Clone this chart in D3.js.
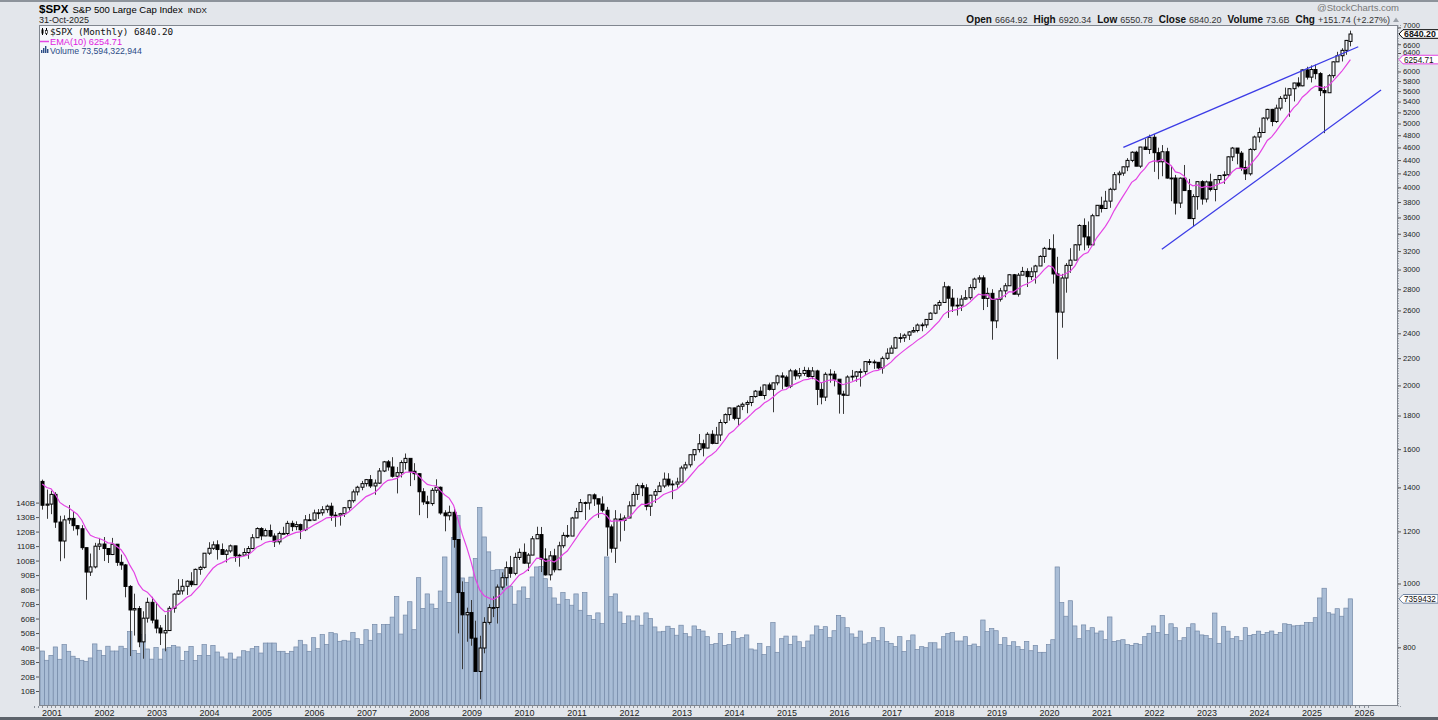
<!DOCTYPE html>
<html>
<head>
<meta charset="utf-8">
<script src="https://cdn.jsdelivr.net/npm/d3@7"></script>
<style>
  body { margin: 0; background: #e3e6eb; }
  svg { display: block; font-family: "Liberation Sans", Arial, sans-serif; }
</style>
</head>
<body>
<script>
// monthly bars, Nov 2000 .. Oct 2025 (one row per year)
var firstYear = 2000, firstMonth = 11;

var openPx = [
  1429.4, 1315.2,
  1320.3, 1366.0, 1239.9, 1160.3, 1249.5, 1255.8, 1224.4, 1211.2, 1133.6, 1040.9, 1059.8, 1139.5,
  1148.1, 1130.2, 1106.7, 1147.4, 1076.9, 1067.1, 989.8, 911.6, 916.1, 815.3, 885.8, 936.3,
  879.8, 855.7, 841.2, 848.2, 916.9, 963.6, 974.5, 990.3, 1008.0, 996.0, 1050.7, 1058.2,
  1111.9, 1131.1, 1144.9, 1126.2, 1107.3, 1120.7, 1140.8, 1101.7, 1104.2, 1114.6, 1130.2, 1173.8,
  1211.9, 1181.3, 1203.6, 1180.6, 1156.9, 1191.5, 1191.3, 1234.2, 1220.3, 1228.8, 1207.0, 1249.5,
  1248.3, 1280.1, 1280.7, 1294.8, 1310.6, 1270.1, 1270.2, 1276.7, 1303.8, 1335.9, 1377.9, 1400.6,
  1418.3, 1438.2, 1406.8, 1420.9, 1482.4, 1530.6, 1503.4, 1455.3, 1474.0, 1526.8, 1549.4, 1481.1,
  1468.4, 1378.6, 1330.6, 1322.7, 1385.6, 1400.4, 1280.0, 1267.4, 1282.8, 1166.4, 968.8, 896.2,
  903.3, 825.9, 735.1, 797.9, 872.8, 919.1, 919.3, 987.5, 1020.6, 1057.1, 1036.2, 1095.6,
  1115.1, 1073.9, 1104.5, 1169.4, 1186.7, 1089.4, 1030.7, 1101.6, 1049.3, 1141.2, 1183.3, 1180.6,
  1257.6, 1286.1, 1327.2, 1325.8, 1363.6, 1345.2, 1320.6, 1292.3, 1218.9, 1131.4, 1253.3, 1247.0,
  1257.6, 1312.4, 1365.7, 1408.5, 1397.9, 1310.3, 1362.2, 1379.3, 1406.6, 1440.7, 1412.2, 1416.2,
  1426.2, 1498.1, 1514.7, 1569.2, 1597.6, 1630.7, 1606.3, 1685.7, 1633.0, 1681.6, 1756.5, 1805.8,
  1848.4, 1782.6, 1859.5, 1872.3, 1884.0, 1923.6, 1960.2, 1930.7, 2003.4, 1972.3, 2018.1, 2067.6,
  2058.9, 1995.0, 2104.5, 2067.9, 2085.5, 2107.4, 2063.1, 2103.8, 1972.2, 1920.0, 2079.4, 2080.4,
  2043.9, 1940.2, 1932.2, 2059.7, 2065.3, 2097.0, 2098.9, 2173.6, 2171.0, 2168.3, 2126.2, 2198.8,
  2238.8, 2278.9, 2363.6, 2362.7, 2384.2, 2411.8, 2423.4, 2470.3, 2471.7, 2519.4, 2575.3, 2647.6,
  2673.6, 2823.8, 2713.8, 2640.9, 2648.1, 2705.3, 2718.4, 2816.3, 2901.5, 2914.0, 2711.7, 2760.2,
  2506.9, 2704.1, 2784.5, 2834.4, 2945.8, 2752.1, 2941.8, 2980.4, 2926.5, 2976.7, 3037.6, 3141.0,
  3230.8, 3225.5, 2954.2, 2584.6, 2912.4, 3044.3, 3100.3, 3271.1, 3500.3, 3363.0, 3270.0, 3621.6,
  3756.1, 3714.2, 3811.2, 3972.9, 4181.2, 4204.1, 4297.5, 4395.3, 4522.7, 4307.5, 4605.4, 4567.0,
  4766.2, 4515.6, 4373.9, 4530.4, 4131.9, 4132.2, 3785.4, 4130.3, 3955.0, 3585.6, 3872.0, 4080.1,
  3839.5, 4076.6, 3970.2, 4109.3, 4169.5, 4179.8, 4450.4, 4589.0, 4507.7, 4288.1, 4193.8, 4567.8,
  4769.8, 4845.7, 5096.3, 5254.4, 5035.7, 5277.5, 5460.5, 5522.3, 5648.4, 5762.5, 5705.5, 6032.4,
  5881.6, 6040.5, 5954.5, 5611.9, 5569.1, 5911.7, 6205.0, 6339.4, 6460.3, 6664.9
];

var highPx = [
  1438.5, 1389.1,
  1383.4, 1376.4, 1267.4, 1269.3, 1315.9, 1286.6, 1227.0, 1226.3, 1134.0, 1110.6, 1152.9, 1173.0,
  1176.6, 1130.9, 1173.0, 1147.8, 1106.6, 1070.7, 994.5, 965.0, 924.0, 907.4, 951.7, 954.3,
  935.1, 864.6, 895.9, 924.2, 966.0, 1015.3, 1015.4, 1011.0, 1040.3, 1053.8, 1063.7, 1112.6,
  1155.4, 1158.9, 1163.2, 1150.6, 1128.0, 1146.2, 1140.8, 1109.7, 1131.5, 1140.1, 1188.5, 1217.3,
  1217.8, 1212.3, 1229.1, 1191.9, 1199.6, 1219.6, 1245.2, 1245.9, 1243.1, 1233.3, 1270.6, 1275.8,
  1294.9, 1297.6, 1310.9, 1318.2, 1326.7, 1284.4, 1280.4, 1306.7, 1340.3, 1389.5, 1407.9, 1431.8,
  1441.6, 1461.6, 1438.9, 1498.0, 1535.6, 1540.6, 1555.9, 1503.9, 1538.7, 1576.1, 1545.1, 1523.6,
  1471.8, 1396.0, 1359.7, 1397.0, 1440.2, 1404.1, 1292.2, 1313.2, 1303.0, 1167.0, 1007.5, 918.9,
  943.9, 877.9, 833.0, 888.7, 930.2, 956.2, 996.7, 1039.5, 1080.2, 1101.4, 1113.7, 1130.4,
  1150.5, 1112.4, 1180.7, 1219.8, 1218.8, 1131.2, 1120.0, 1129.2, 1157.2, 1196.1, 1227.1, 1262.6,
  1303.0, 1344.1, 1332.3, 1364.6, 1370.6, 1345.2, 1356.5, 1307.4, 1229.3, 1292.7, 1277.6, 1269.4,
  1333.5, 1378.0, 1419.2, 1422.4, 1415.3, 1363.5, 1391.7, 1426.7, 1474.5, 1471.0, 1434.3, 1448.0,
  1509.9, 1530.9, 1570.3, 1597.6, 1687.2, 1654.2, 1698.0, 1709.7, 1729.9, 1775.2, 1813.6, 1849.4,
  1850.8, 1867.9, 1884.0, 1897.3, 1924.0, 1968.2, 1991.4, 2005.0, 2019.3, 2018.2, 2075.8, 2093.6,
  2072.4, 2119.6, 2117.5, 2125.9, 2134.7, 2130.0, 2132.8, 2112.7, 2020.9, 2094.3, 2116.5, 2104.3,
  2038.2, 1963.0, 2072.2, 2111.1, 2103.5, 2120.6, 2177.1, 2193.8, 2187.9, 2169.6, 2214.1, 2277.5,
  2301.0, 2371.5, 2401.0, 2398.2, 2418.7, 2453.8, 2484.0, 2490.9, 2519.4, 2583.0, 2657.7, 2695.0,
  2872.9, 2836.0, 2801.9, 2717.5, 2742.1, 2791.5, 2848.0, 2916.5, 2940.9, 2939.9, 2815.2, 2800.2,
  2709.0, 2813.5, 2860.3, 2949.5, 2954.1, 2964.2, 3028.0, 3013.6, 3022.0, 3050.1, 3154.3, 3247.9,
  3337.8, 3393.5, 3136.7, 2954.9, 3068.7, 3233.1, 3280.0, 3514.8, 3588.1, 3549.9, 3646.0, 3760.2,
  3870.9, 3950.4, 3994.4, 4218.8, 4238.0, 4302.4, 4430.0, 4537.4, 4545.9, 4608.1, 4743.8, 4808.9,
  4818.6, 4595.3, 4637.3, 4593.5, 4307.7, 4177.5, 4140.2, 4325.3, 4119.3, 3905.4, 4080.1, 4101.0,
  4095.0, 4195.4, 4110.8, 4170.1, 4231.1, 4458.5, 4607.1, 4584.6, 4541.3, 4393.6, 4587.6, 4793.3,
  4931.1, 5111.1, 5264.9, 5264.0, 5341.9, 5505.5, 5669.7, 5651.6, 5767.4, 5878.5, 6044.2, 6100.0,
  6128.2, 6147.4, 5986.1, 5695.3, 5944.2, 6215.1, 6427.0, 6508.2, 6699.5, 6920.3
];

var lowPx = [
  1294.9, 1254.1,
  1274.6, 1214.8, 1081.2, 1092.0, 1232.0, 1203.0, 1183.3, 1124.9, 944.8, 1026.8, 1054.3, 1124.3,
  1081.7, 1074.4, 1104.6, 1063.5, 1049.0, 952.9, 775.7, 833.4, 800.2, 768.6, 872.1, 870.0,
  840.3, 806.3, 788.9, 847.9, 902.8, 960.8, 962.1, 960.8, 988.3, 996.0, 1031.2, 1053.4,
  1105.1, 1124.4, 1087.2, 1105.3, 1076.3, 1113.3, 1078.8, 1060.7, 1101.3, 1090.3, 1127.6, 1173.8,
  1163.8, 1180.1, 1176.4, 1136.2, 1146.2, 1188.3, 1183.6, 1201.1, 1205.1, 1168.2, 1201.1, 1245.7,
  1245.7, 1253.6, 1268.0, 1280.7, 1245.3, 1219.3, 1224.5, 1262.1, 1290.9, 1326.6, 1361.0, 1385.9,
  1404.0, 1396.6, 1364.0, 1416.4, 1476.7, 1484.2, 1448.4, 1370.6, 1449.1, 1489.6, 1406.1, 1435.7,
  1270.1, 1316.8, 1257.0, 1312.6, 1373.1, 1272.0, 1200.4, 1247.5, 1133.5, 839.8, 741.0, 815.7,
  804.3, 734.5, 666.8, 783.3, 866.1, 888.9, 869.3, 978.5, 992.3, 1020.2, 1029.4, 1085.9,
  1071.6, 1044.5, 1105.2, 1170.7, 1040.8, 1028.3, 1010.9, 1039.7, 1048.1, 1131.9, 1173.0, 1186.6,
  1257.6, 1286.8, 1249.1, 1294.7, 1311.8, 1258.1, 1282.9, 1101.5, 1114.2, 1074.8, 1158.7, 1202.4,
  1258.9, 1312.2, 1340.0, 1357.4, 1292.0, 1266.7, 1325.4, 1377.7, 1396.6, 1403.3, 1343.4, 1398.1,
  1426.2, 1485.0, 1501.5, 1536.0, 1581.3, 1560.3, 1604.6, 1627.5, 1633.4, 1646.5, 1746.8, 1768.0,
  1770.5, 1737.9, 1834.4, 1814.4, 1859.8, 1916.0, 1930.7, 1904.8, 1964.0, 1820.7, 2001.0, 1972.6,
  1988.1, 1980.9, 2039.7, 2048.4, 2067.9, 2056.3, 2044.0, 1867.0, 1872.0, 1893.7, 2019.4, 1993.3,
  1812.3, 1810.1, 1931.8, 2033.8, 2025.9, 1991.7, 2074.0, 2147.6, 2119.1, 2114.7, 2083.8, 2187.4,
  2245.1, 2271.7, 2322.3, 2329.0, 2344.5, 2405.7, 2407.7, 2417.4, 2446.6, 2520.4, 2566.3, 2605.5,
  2682.4, 2532.7, 2585.9, 2553.8, 2594.6, 2699.0, 2699.0, 2795.1, 2864.1, 2603.5, 2631.1, 2346.6,
  2444.0, 2681.8, 2722.3, 2848.6, 2750.5, 2728.8, 2952.2, 2822.1, 2891.9, 2855.9, 3050.7, 3070.3,
  3214.6, 2855.8, 2191.9, 2447.5, 2766.6, 2965.7, 3115.9, 3204.3, 3209.5, 3233.9, 3279.7, 3633.4,
  3662.7, 3725.6, 3723.3, 3955.5, 4056.6, 4164.4, 4233.1, 4367.7, 4305.9, 4278.9, 4560.0, 4495.1,
  4222.6, 4114.7, 4157.9, 4124.3, 3810.3, 3636.9, 3721.6, 3954.5, 3584.1, 3491.6, 3698.2, 3764.5,
  3794.3, 3943.1, 3808.9, 4049.1, 4048.3, 4166.2, 4385.1, 4335.3, 4238.6, 4103.8, 4167.2, 4546.5,
  4682.1, 4845.2, 5056.8, 4953.6, 5011.1, 5234.3, 5391.0, 5119.3, 5402.6, 5674.0, 5696.5, 5832.3,
  5773.3, 5837.7, 5504.7, 4835.0, 5578.6, 5861.4, 6201.6, 6212.7, 6360.6, 6550.8
];

var closePx = [
  1315.0, 1320.3,
  1366.0, 1239.9, 1160.3, 1249.5, 1255.8, 1224.4, 1211.2, 1133.6, 1040.9, 1059.8, 1139.5, 1148.1,
  1130.2, 1106.7, 1147.4, 1076.9, 1067.1, 989.8, 911.6, 916.1, 815.3, 885.8, 936.3, 879.8,
  855.7, 841.2, 848.2, 916.9, 963.6, 974.5, 990.3, 1008.0, 996.0, 1050.7, 1058.2, 1111.9,
  1131.1, 1144.9, 1126.2, 1107.3, 1120.7, 1140.8, 1101.7, 1104.2, 1114.6, 1130.2, 1173.8, 1211.9,
  1181.3, 1203.6, 1180.6, 1156.9, 1191.5, 1191.3, 1234.2, 1220.3, 1228.8, 1207.0, 1249.5, 1248.3,
  1280.1, 1280.7, 1294.8, 1310.6, 1270.1, 1270.2, 1276.7, 1303.8, 1335.9, 1377.9, 1400.6, 1418.3,
  1438.2, 1406.8, 1420.9, 1482.4, 1530.6, 1503.4, 1455.3, 1474.0, 1526.8, 1549.4, 1481.1, 1468.4,
  1378.6, 1330.6, 1322.7, 1385.6, 1400.4, 1280.0, 1267.4, 1282.8, 1166.4, 968.8, 896.2, 903.3,
  825.9, 735.1, 797.9, 872.8, 919.1, 919.3, 987.5, 1020.6, 1057.1, 1036.2, 1095.6, 1115.1,
  1073.9, 1104.5, 1169.4, 1186.7, 1089.4, 1030.7, 1101.6, 1049.3, 1141.2, 1183.3, 1180.6, 1257.6,
  1286.1, 1327.2, 1325.8, 1363.6, 1345.2, 1320.6, 1292.3, 1218.9, 1131.4, 1253.3, 1247.0, 1257.6,
  1312.4, 1365.7, 1408.5, 1397.9, 1310.3, 1362.2, 1379.3, 1406.6, 1440.7, 1412.2, 1416.2, 1426.2,
  1498.1, 1514.7, 1569.2, 1597.6, 1630.7, 1606.3, 1685.7, 1633.0, 1681.6, 1756.5, 1805.8, 1848.4,
  1782.6, 1859.5, 1872.3, 1884.0, 1923.6, 1960.2, 1930.7, 2003.4, 1972.3, 2018.1, 2067.6, 2058.9,
  1995.0, 2104.5, 2067.9, 2085.5, 2107.4, 2063.1, 2103.8, 1972.2, 1920.0, 2079.4, 2080.4, 2043.9,
  1940.2, 1932.2, 2059.7, 2065.3, 2097.0, 2098.9, 2173.6, 2171.0, 2168.3, 2126.2, 2198.8, 2238.8,
  2278.9, 2363.6, 2362.7, 2384.2, 2411.8, 2423.4, 2470.3, 2471.7, 2519.4, 2575.3, 2647.6, 2673.6,
  2823.8, 2713.8, 2640.9, 2648.1, 2705.3, 2718.4, 2816.3, 2901.5, 2914.0, 2711.7, 2760.2, 2506.9,
  2704.1, 2784.5, 2834.4, 2945.8, 2752.1, 2941.8, 2980.4, 2926.5, 2976.7, 3037.6, 3141.0, 3230.8,
  3225.5, 2954.2, 2584.6, 2912.4, 3044.3, 3100.3, 3271.1, 3500.3, 3363.0, 3270.0, 3621.6, 3756.1,
  3714.2, 3811.2, 3972.9, 4181.2, 4204.1, 4297.5, 4395.3, 4522.7, 4307.5, 4605.4, 4567.0, 4766.2,
  4515.6, 4373.9, 4530.4, 4131.9, 4132.2, 3785.4, 4130.3, 3955.0, 3585.6, 3872.0, 4080.1, 3839.5,
  4076.6, 3970.2, 4109.3, 4169.5, 4179.8, 4450.4, 4589.0, 4507.7, 4288.1, 4193.8, 4567.8, 4769.8,
  4845.7, 5096.3, 5254.4, 5035.7, 5277.5, 5460.5, 5522.3, 5648.4, 5762.5, 5705.5, 6032.4, 5881.6,
  6040.5, 5954.5, 5611.9, 5569.1, 5911.7, 6205.0, 6339.4, 6460.3, 6688.5, 6840.2
];

// volume in billions of shares
var volumeB = [
  37.6, 31.2,
  34.6, 40.4, 31.9, 42.0, 37.4, 34.0, 32.4, 31.2, 30.5, 32.8, 42.5, 38.1,
  34.6, 40.9, 37.6, 37.6, 40.9, 39.2, 51.0, 38.0, 36.0, 49.0, 39.0, 32.0,
  40.0, 32.0, 39.0, 40.0, 41.5, 40.4, 31.0, 37.4, 40.8, 31.0, 34.6, 42.0,
  34.6, 41.5, 36.9, 33.5, 32.1, 36.2, 32.0, 33.5, 37.8, 37.1, 39.2, 40.8,
  36.2, 43.1, 43.1, 43.1, 37.4, 37.4, 35.8, 37.4, 40.4, 45.0, 41.9, 37.4,
  46.8, 39.2, 48.9, 42.2, 50.3, 49.5, 44.3, 45.0, 44.5, 50.3, 46.1, 42.2,
  52.3, 45.0, 56.0, 49.5, 55.8, 56.0, 61.0, 75.3, 49.3, 62.4, 71.6, 52.3,
  88.2, 67.0, 77.0, 70.0, 67.0, 79.0, 102.5, 71.0, 116.0, 131.0, 88.0, 85.0,
  88.6, 101.5, 136.6, 116.3, 106.0, 93.3, 93.7, 93.7, 89.6, 82.3, 69.9, 79.1,
  81.8, 73.8, 88.7, 95.6, 96.0, 87.5, 81.3, 74.2, 69.9, 77.9, 73.1, 69.2,
  77.0, 65.7, 77.9, 62.2, 59.3, 63.9, 56.5, 102.5, 75.1, 77.0, 64.5, 56.5,
  61.8, 58.4, 61.8, 55.4, 63.9, 60.0, 54.2, 50.8, 51.2, 54.7, 53.1, 48.5,
  55.4, 49.7, 47.4, 54.9, 52.4, 51.4, 47.5, 42.0, 42.7, 49.6, 41.5, 42.0,
  51.0, 46.1, 46.8, 48.7, 39.0, 38.3, 42.9, 35.1, 40.6, 57.2, 36.7, 46.1,
  47.9, 42.2, 47.9, 44.0, 39.9, 44.5, 48.7, 54.9, 52.4, 54.4, 46.8, 51.6,
  62.2, 60.6, 53.7, 49.4, 47.1, 51.4, 42.4, 43.3, 46.8, 44.7, 53.7, 44.2,
  42.9, 40.6, 47.5, 37.2, 44.7, 48.7, 38.6, 40.6, 39.9, 43.3, 43.3, 39.0,
  47.5, 49.6, 50.3, 44.5, 44.5, 47.5, 41.3, 42.4, 40.6, 59.0, 51.0, 53.1,
  51.6, 42.0, 46.8, 41.3, 44.0, 40.6, 38.6, 44.2, 37.8, 41.5, 36.7, 36.7,
  42.0, 45.4, 95.6, 71.0, 61.6, 72.3, 54.9, 46.1, 55.6, 51.6, 53.7, 50.0,
  51.4, 45.4, 61.1, 44.2, 44.7, 45.4, 42.0, 41.5, 42.9, 42.0, 47.5, 49.8,
  54.9, 50.3, 62.2, 49.1, 56.4, 53.7, 44.7, 46.8, 53.7, 56.4, 51.4, 48.7,
  48.2, 46.1, 63.8, 42.9, 54.4, 51.3, 46.1, 47.5, 44.7, 53.7, 48.4, 49.1,
  51.3, 49.1, 50.3, 51.4, 49.1, 50.3, 56.4, 56.0, 54.9, 55.1, 55.4, 57.2,
  57.2, 60.6, 74.2, 80.9, 64.0, 63.1, 66.8, 61.6, 67.2, 73.59
];

// closes Jan..Oct 2000, only used to warm up the EMA
var warmupCloses = [1394.5, 1366.4, 1498.6, 1452.4, 1420.6, 1454.6, 1430.8, 1517.7, 1436.5, 1429.4];

var priceTicks = [800, 1000, 1200, 1400, 1600, 1800, 2000, 2200, 2400, 2600, 2800, 3000, 3200, 3400,
                  3600, 3800, 4000, 4200, 4400, 4600, 4800, 5000, 5200, 5400, 5600, 5800, 6000, 6400, 6600, 7000];
var volTicks = [10, 20, 30, 40, 50, 60, 70, 80, 90, 100, 110, 120, 130, 140];
var yearTicks = [2001, 2002, 2003, 2004, 2005, 2006, 2007, 2008, 2009, 2010, 2011, 2012, 2013,
                 2014, 2015, 2016, 2017, 2018, 2019, 2020, 2021, 2022, 2023, 2024, 2025, 2026];

// trend lines: [year, month (fractional), price]
var upperTrend = [[2021, 6.1, 4600], [2025, 11.8, 6542]];
var lowerTrend = [[2022, 2.9, 3220], [2026, 5.0, 5622]];

var W = 1438, H = 720;
var plot = {left: 39, right: 1398, top: 25, bottom: 706};
var n = closePx.length;

function monthIdx(yr, mo) { return (yr - firstYear) * 12 + (mo - firstMonth); }

var x = d3.scaleLinear().domain([0, n - 1]).range([42.3, 1350.4]);
var y = d3.scaleLog().domain([651.4, 7059]).range([plot.bottom, plot.top]);
var yv = d3.scaleLinear().domain([0, 140]).range([705.5, 502.6]);
var step = x(1) - x(0);

var svg = d3.select("body").append("svg").attr("width", W).attr("height", H);

// frame / background
svg.append("rect").attr("width", W).attr("height", H).attr("fill", "#e3e6eb");
svg.append("rect").attr("x", 0).attr("y", 0).attr("width", W).attr("height", 2).attr("fill", "#8d939b");
svg.append("rect").attr("x", 0).attr("y", 717).attr("width", W).attr("height", 3).attr("fill", "#5d636b");
svg.append("rect")
   .attr("x", plot.left).attr("y", plot.top)
   .attr("width", plot.right - plot.left).attr("height", plot.bottom - plot.top)
   .attr("fill", "#f5f7fb");

svg.append("clipPath").attr("id", "clip")
   .append("rect")
   .attr("x", plot.left).attr("y", plot.top)
   .attr("width", plot.right - plot.left).attr("height", plot.bottom - plot.top);

var g = svg.append("g").attr("clip-path", "url(#clip)");

// volume bars
g.append("g").selectAll("rect")
   .data(volumeB)
   .enter().append("rect")
   .attr("x", function(d, i) { return x(i) - step / 2; })
   .attr("y", function(d) { return yv(d); })
   .attr("width", step)
   .attr("height", function(d) { return yv(0) - yv(d); })
   .attr("fill", "#a9bdd6")
   .attr("stroke", "#7489a7")
   .attr("stroke-width", 0.7);

// EMA(10)
var k = 2 / 11, e = warmupCloses[0], ema = [];
warmupCloses.slice(1).forEach(function(c) { e = e + k * (c - e); });
closePx.forEach(function(c) { e = e + k * (c - e); ema.push(e); });

var bars = d3.range(n).map(function(i) {
  return {i: i, o: openPx[i], h: highPx[i], l: lowPx[i], c: closePx[i]};
});

// candles
var candle = g.append("g").selectAll("g")
   .data(bars)
   .enter().append("g");

candle.append("line")
   .attr("x1", function(d) { return Math.round(x(d.i)) + 0.5; })
   .attr("x2", function(d) { return Math.round(x(d.i)) + 0.5; })
   .attr("y1", function(d) { return y(d.h); })
   .attr("y2", function(d) { return y(d.l); })
   .attr("stroke", "#3a3a3a")
   .attr("stroke-width", 1);

candle.append("rect")
   .attr("x", function(d) { return Math.round(x(d.i)) - 1; })
   .attr("y", function(d) { return y(Math.max(d.o, d.c)); })
   .attr("width", 3)
   .attr("height", function(d) { return Math.max(0.8, Math.abs(y(d.o) - y(d.c))); })
   .attr("fill", function(d) { return d.c < d.o ? "#000" : "#f5f7fb"; })
   .attr("stroke", "#000")
   .attr("stroke-width", 1);

g.append("path")
   .datum(ema)
   .attr("fill", "none")
   .attr("stroke", "#e444e4")
   .attr("stroke-width", 1.2)
   .attr("d", d3.line().x(function(d, i) { return x(i); }).y(function(d) { return y(d); }));

// trend lines
[upperTrend, lowerTrend].forEach(function(t) {
  svg.append("line")
     .attr("x1", x(monthIdx(t[0][0], t[0][1]))).attr("y1", y(t[0][2]))
     .attr("x2", x(monthIdx(t[1][0], t[1][1]))).attr("y2", y(t[1][2]))
     .attr("stroke", "#3c3ce6")
     .attr("stroke-width", 1.3);
});

// plot border
svg.append("rect")
   .attr("x", plot.left + 0.5).attr("y", plot.top + 0.5)
   .attr("width", plot.right - plot.left - 1).attr("height", plot.bottom - plot.top - 1)
   .attr("fill", "none").attr("stroke", "#80868f");

// right price axis
var ay = svg.append("g")
   .attr("transform", "translate(" + plot.right + ",0)")
   .call(d3.axisRight(y).tickValues(priceTicks).tickSize(3).tickPadding(2).tickFormat(d3.format("d")));
ay.select(".domain").attr("stroke", "#9aa0a8").attr("stroke-dasharray", "1,1.5");
ay.selectAll(".tick line").attr("stroke", "#555");
ay.selectAll("text").attr("fill", "#222").style("font-size", "7.6px").style("font-family", "Liberation Sans, Arial");
// the top labels sit tight against the value flags, nudge them clear
ay.selectAll(".tick text").filter(function(d) { return d === 7000; }).attr("dy", "0.05em");
ay.selectAll(".tick text").filter(function(d) { return d === 6400; }).attr("dy", "0.2em");
ay.selectAll(".tick text").filter(function(d) { return d === 6600; }).attr("dy", "0.4em");

// left volume axis
var av = svg.append("g")
   .attr("transform", "translate(" + plot.left + ",0)")
   .call(d3.axisLeft(yv).tickValues(volTicks).tickSize(3).tickPadding(1).tickFormat(function(d) { return d + "B"; }));
av.select(".domain").remove();
av.selectAll(".tick line").attr("stroke", "#555");
av.selectAll("text").attr("fill", "#222").style("font-size", "8px").style("font-family", "Liberation Sans, Arial");

// bottom month ticks and year labels
svg.append("g").selectAll("line")
   .data(d3.range(-2, n + 4))
   .enter().append("line")
   .attr("x1", function(i) { return Math.round(x(i)) + 0.5; })
   .attr("x2", function(i) { return Math.round(x(i)) + 0.5; })
   .attr("y1", plot.bottom).attr("y2", plot.bottom + 2)
   .attr("stroke", "#8a9099");

svg.append("g").selectAll("text")
   .data(yearTicks)
   .enter().append("text")
   .attr("x", function(d) { return x(monthIdx(d, 1)) + 1; })
   .attr("y", 716)
   .attr("text-anchor", "middle")
   .style("font-size", "9px")
   .attr("fill", "#222")
   .text(function(d) { return d; });

// value flags on the right axis
function flag(yPos, text, stroke, bold, w) {
  var fg = svg.append("g").attr("transform", "translate(" + (plot.right + 1) + "," + yPos + ")");
  fg.append("path")
    .attr("d", "M0,0 L4,-4.3 L" + w + ",-4.3 L" + w + ",4.3 L4,4.3 Z")
    .attr("fill", "#fff").attr("stroke", stroke).attr("stroke-width", 1);
  fg.append("text").attr("x", 5).attr("y", 3)
    .style("font-size", bold ? "8.8px" : "8.2px")
    .style("font-weight", bold ? "bold" : "normal")
    .attr("fill", "#111").text(text);
}
flag(y(closePx[n - 1]), "6840.20", "#000", true, 44);
flag(y(ema[n - 1]), "6254.71", "#e444e4", false, 44);
flag(yv(volumeB[n - 1]), "7359432", "#6d82a0", false, 39);

// header
var hdr = svg.append("text").attr("x", 39).attr("y", 13);
hdr.append("tspan").style("font-weight", "bold").style("font-size", "11.5px").text("$SPX");
hdr.append("tspan").attr("dx", 4).style("font-size", "9.5px").text("S&P 500 Large Cap Index");
hdr.append("tspan").attr("dx", 5).style("font-size", "8px").text("INDX");

svg.append("text").attr("x", 39).attr("y", 23).style("font-size", "9px").attr("fill", "#222").text("31-Oct-2025");

svg.append("text").attr("x", 1399).attr("y", 11).attr("text-anchor", "end")
   .style("font-size", "9.5px").attr("fill", "#777").text("@StockCharts.com");

var quote = [["Open", "6664.92"], ["High", "6920.34"], ["Low", "6550.78"], ["Close", "6840.20"],
             ["Volume", "73.6B"], ["Chg", "+151.74 (+2.27%)"]];
var qt = svg.append("text").attr("x", 1390).attr("y", 22.5).attr("text-anchor", "end").attr("fill", "#111");
quote.forEach(function(q, i) {
  qt.append("tspan").attr("dx", i ? 6 : 0).style("font-weight", "bold").style("font-size", "10px").text(q[0]);
  qt.append("tspan").attr("dx", 3).style("font-size", "9px").attr("fill", "#333").text(q[1]);
});
svg.append("path").attr("d", "M1393,22 L1396,17.5 L1399,22 Z").attr("fill", "#9aa0a8");

// legend inside the plot
var lg = svg.append("g");
lg.append("line").attr("x1", 42.5).attr("x2", 42.5).attr("y1", 28).attr("y2", 35).attr("stroke", "#000");
lg.append("rect").attr("x", 41.5).attr("y", 29.5).attr("width", 2).attr("height", 4).attr("fill", "#000");
lg.append("line").attr("x1", 46.5).attr("x2", 46.5).attr("y1", 28).attr("y2", 35).attr("stroke", "#000");
lg.append("rect").attr("x", 45.5).attr("y", 30.5).attr("width", 2).attr("height", 3).attr("fill", "#fff").attr("stroke", "#000").attr("stroke-width", 0.6);
lg.append("text").attr("x", 50).attr("y", 35).style("font-family", "DejaVu Sans Mono, monospace")
  .style("font-size", "9.3px").attr("fill", "#111").text("$SPX (Monthly) 6840.20");

lg.append("line").attr("x1", 40).attr("x2", 49).attr("y1", 41.5).attr("y2", 41.5).attr("stroke", "#e444e4").attr("stroke-width", 1.5);
lg.append("text").attr("x", 50).attr("y", 45).style("font-size", "9.2px").attr("fill", "#e020e0").text("EMA(10) 6254.71");

[[41, 3], [43, 5], [45, 7], [47, 4]].forEach(function(b) {
  lg.append("rect").attr("x", b[0]).attr("y", 53 - b[1]).attr("width", 1.4).attr("height", b[1]).attr("fill", "#2b4c86");
});
lg.append("text").attr("x", 50).attr("y", 53.5).style("font-size", "8.7px").attr("fill", "#2b4c86").text("Volume 73,594,322,944");
</script>
</body>
</html>
